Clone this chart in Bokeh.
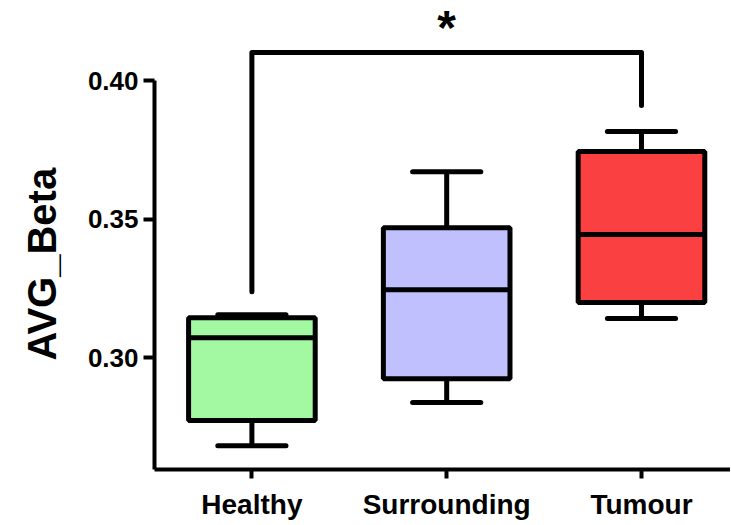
from bokeh.plotting import figure
from bokeh.models import Range1d, FixedTicker, NumeralTickFormatter, ColumnDataSource, Title
from bokeh.core.properties import value
from bokeh.embed import file_html
from bokeh.resources import INLINE

# ---- data ----
categories = ["Healthy", "Surrounding", "Tumour"]
lower = [0.2682, 0.2838, 0.3141]
q1 = [0.2773, 0.2924, 0.3199]
median = [0.3072, 0.3245, 0.3444]
q3 = [0.3144, 0.3469, 0.3744]
upper = [0.3155, 0.3671, 0.3816]
colors = ["#A3F9A1", "#C0C0FF", "#FA4040"]
y_ticks = [0.30, 0.35, 0.40]
bracket_left_y = 0.3238
bracket_top_y = 0.4101
bracket_right_y = 0.3910
significance = "*"
y_label = "AVG_Beta"

FONT = "Liberation Sans"
BOX_W = 0.65
CAP_W = 0.35

xs = [i + 0.5 for i in range(len(categories))]

p = figure(
    x_range=Range1d(0, 2.957),
    y_range=Range1d(0.2596, 0.4253),
    frame_width=576,
    frame_height=459,
    min_border_left=153,
    min_border_right=0,
    min_border_top=10,
    min_border_bottom=0,
    output_backend="svg",
    toolbar_location=None,
)
p.outline_line_color = None
p.xgrid.visible = False
p.ygrid.visible = False
p.background_fill_color = "white"
p.border_fill_color = "white"

src = ColumnDataSource(dict(
    x=xs, lower=lower, q1=q1, median=median, q3=q3, upper=upper, color=colors,
    left=[x - BOX_W / 2 for x in xs], right=[x + BOX_W / 2 for x in xs],
    cl=[x - CAP_W / 2 for x in xs], cr=[x + CAP_W / 2 for x in xs],
))

# whiskers
p.segment(x0="x", x1="x", y0="q3", y1="upper", source=src, line_color="black", line_width=5)
p.segment(x0="x", x1="x", y0="q1", y1="lower", source=src, line_color="black", line_width=5)
# boxes
p.vbar(x="x", width=BOX_W, bottom="q1", top="q3", fill_color="color", line_color="black",
       line_width=5, source=src)
# medians
p.segment(x0="left", x1="right", y0="median", y1="median", source=src, line_color="black", line_width=5)
# caps
p.segment(x0="cl", x1="cr", y0="upper", y1="upper", source=src, line_color="black",
          line_width=5, line_cap="round")
p.segment(x0="cl", x1="cr", y0="lower", y1="lower", source=src, line_color="black",
          line_width=5, line_cap="round")

# significance bracket
p.line(x=[xs[0], xs[0], xs[2], xs[2]],
       y=[bracket_left_y, bracket_top_y, bracket_top_y, bracket_right_y],
       line_color="black", line_width=5, line_join="round", line_cap="round")
p.text(x=[xs[1]], y=[0.4192], text=[significance], text_align="center",
       text_baseline="alphabetic", text_font=value(FONT), text_font_style="bold",
       text_font_size="48px", text_color="black")

# y axis
ya = p.yaxis[0]
ya.bounds = (0.2596, 0.40)
ya.ticker = FixedTicker(ticks=y_ticks)
ya.formatter = NumeralTickFormatter(format="0.00")
ya.minor_tick_line_color = None
ya.axis_line_width = 4
ya.major_tick_line_width = 4
ya.major_tick_out = 11
ya.major_tick_in = 0
ya.major_label_standoff = 5
ya.major_label_text_font = FONT
ya.major_label_text_font_style = "bold"
ya.major_label_text_font_size = "26px"
ya.major_label_text_color = "black"

# y axis title as a side title, positioned along the drawn axis line
p.add_layout(Title(text=y_label, align="left", offset=109, standoff=38,
                   vertical_align="top",
                   text_font=FONT, text_font_style="bold", text_font_size="40px",
                   text_color="black"), "left")

# x axis
xa = p.xaxis[0]
xa.ticker = FixedTicker(ticks=xs)
xa.major_label_overrides = {x: c for x, c in zip(xs, categories)}
xa.minor_tick_line_color = None
xa.axis_line_width = 4
xa.major_tick_line_width = 4
xa.major_tick_out = 9
xa.major_tick_in = 0
xa.major_label_standoff = 10
xa.major_label_text_font = FONT
xa.major_label_text_font_style = "bold"
xa.major_label_text_font_size = "28px"
xa.major_label_text_color = "black"

open("out.html", "w").write(file_html(p, INLINE))
